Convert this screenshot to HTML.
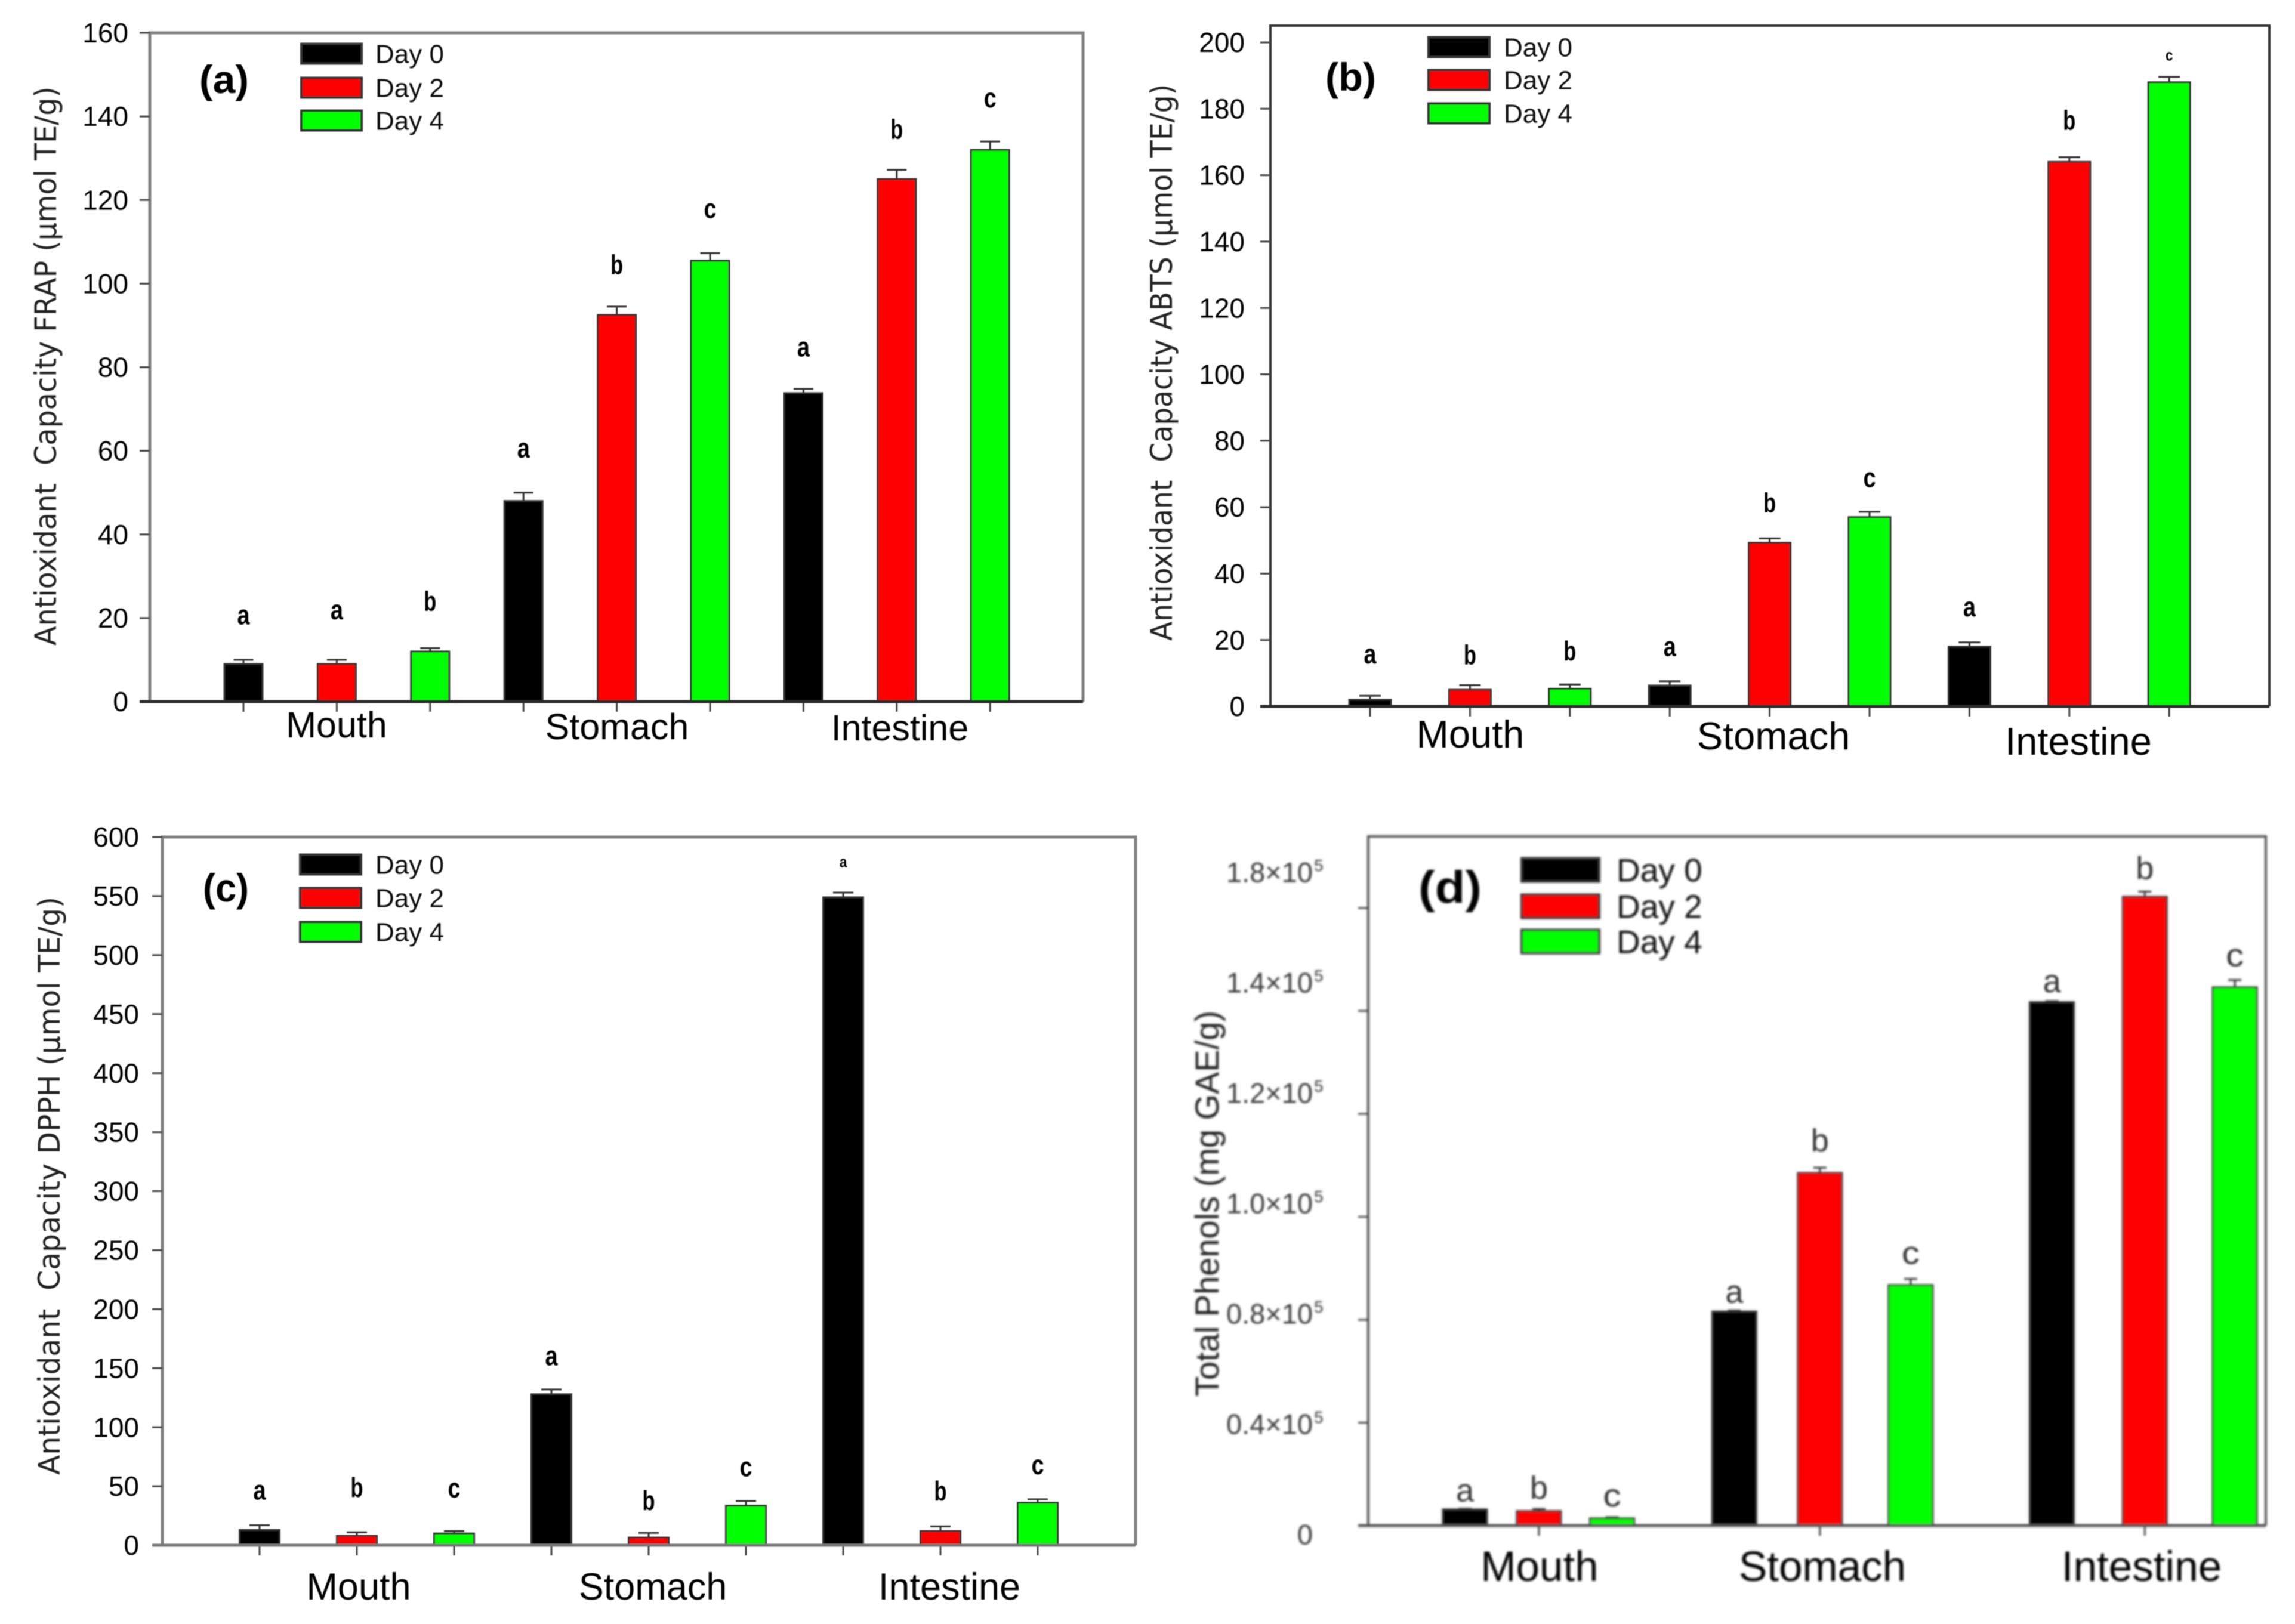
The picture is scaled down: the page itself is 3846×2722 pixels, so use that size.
<!DOCTYPE html>
<html lang="en">
<head>
<meta charset="utf-8">
<title>Antioxidant capacity and total phenols</title>
<style>
html,body{margin:0;padding:0;background:#fff;width:3846px;height:2722px;overflow:hidden}
svg{display:block}
text{font-family:"Liberation Sans",sans-serif;white-space:pre}
</style>
</head>
<body>
<svg id="figure" xmlns="http://www.w3.org/2000/svg" width="3846" height="2722" viewBox="0 0 3846 2722">
  <defs>
    <filter id="soft" x="-2%" y="-2%" width="104%" height="104%"><feGaussianBlur stdDeviation="0.9"/></filter>
    <filter id="softer" x="-2%" y="-2%" width="104%" height="104%"><feGaussianBlur stdDeviation="1.9"/></filter>
  </defs>
  <rect width="3846" height="2722" fill="#fff"/>
  <g id="panel-a" filter="url(#soft)"></g>
  <g id="panel-b" filter="url(#soft)"></g>
  <g id="panel-c" filter="url(#soft)"></g>
  <g id="panel-d" filter="url(#softer)"></g>
</svg>
<script>
const categories = ['Mouth', 'Stomach', 'Intestine'];
const seriesNames = ['Day 0', 'Day 2', 'Day 4'];
const seriesColors = ['#000000', '#ff0000', '#00ff00'];

const aTickValues = [0, 20, 40, 60, 80, 100, 120, 140, 160];
const aTickLabels = ['0', '20', '40', '60', '80', '100', '120', '140', '160'];
const aDay0 = [9, 48, 73.8];
const aDay2 = [9, 92.5, 125];
const aDay4 = [12, 105.5, 132];
const aDay0Err = [1, 2, 1];
const aDay2Err = [1, 2, 2.2];
const aDay4Err = [0.8, 1.8, 2];
const aLetters = ['a', 'a', 'b', 'a', 'b', 'c', 'a', 'b', 'c'];
const aLetterValues = [20.2, 21.4, 23.5, 60.1, 104, 117.4, 84.3, 136.4, 143.9];

const bTickValues = [0, 20, 40, 60, 80, 100, 120, 140, 160, 180, 200];
const bTickLabels = ['0', '20', '40', '60', '80', '100', '120', '140', '160', '180', '200'];
const bDay0 = [2, 6.3, 18];
const bDay2 = [5, 49.3, 164];
const bDay4 = [5.3, 57, 188];
const bDay0Err = [1.2, 1.3, 1.3];
const bDay2Err = [1.4, 1.3, 1.4];
const bDay4Err = [1.3, 1.6, 1.6];
const bLetters = ['a', 'b', 'b', 'a', 'b', 'c', 'a', 'b', 'c'];
const bLetterValues = [15.1, 14.8, 16, 17.3, 60.6, 68.2, 29.3, 175.8, 195.8];

const cTickValues = [0, 50, 100, 150, 200, 250, 300, 350, 400, 450, 500, 550, 600];
const cTickLabels = ['0', '50', '100', '150', '200', '250', '300', '350', '400', '450', '500', '550', '600'];
const cDay0 = [13, 128, 549];
const cDay2 = [8, 6.5, 12];
const cDay4 = [10, 33.5, 36];
const cDay0Err = [4, 4, 4];
const cDay2Err = [3, 4, 4];
const cDay4Err = [2, 4, 3];
const cLetters = ['a', 'b', 'c', 'a', 'b', 'c', 'a', 'b', 'c'];
const cLetterValues = [44.8, 47, 46.5, 158.5, 35.9, 64.4, 578, 43.9, 66.3];

const dTickValues = [0, 30000, 60000, 90000, 120000, 150000, 180000];
const dTickLabels = ['0', '0.4', '0.8', '1.0', '1.2', '1.4', '1.8'];
const dDay0 = [4700, 62400, 152600];
const dDay2 = [4200, 102800, 183300];
const dDay4 = [2100, 70100, 156900];
const dDay0Err = [200, 300, 300];
const dDay2Err = [600, 1500, 1500];
const dDay4Err = [300, 1800, 2100];
const dLetters = ['a', 'b', 'c', 'a', 'b', 'c', 'a', 'b', 'c'];
const dLetterValues = [9500, 10300, 8000, 67400, 111500, 78700, 157900, 190900, 165500];
const dBarSlots = [0, 1.01, 2.01, 3.68, 4.85, 6.09, 8.02, 9.29, 10.52];
const dTickSlots = [1.01, 4.85, 9.29];

const NS = 'http://www.w3.org/2000/svg';
function el(parent, tag, attrs, text) {
  const node = document.createElementNS(NS, tag);
  for (const k in attrs) node.setAttribute(k, attrs[k]);
  if (text !== undefined) node.textContent = text;
  parent.appendChild(node);
  return node;
}

const panels = [
  {
    id: 'a', left: 251, right: 1815, top: 55, y0: 1176, yMaxPx: 55, vMax: 160,
    slotX0: 408, slotPitch: 156.4, barW: 64, capW: 33,
    tickValues: aTickValues, tickLabels: aTickLabels,
    values: [aDay0, aDay2, aDay4], errors: [aDay0Err, aDay2Err, aDay4Err],
    letters: aLetters, letterValues: aLetterValues,
    tickFont: 46, tickRight: 215, tickLen: 17, frame: '#808080', frameW: 5, axisColor: '#2b2b2b',
    yTitle: 'Antioxidant  Capacity FRAP (\u00b5mol TE/g)', yTitleX: 94, yTitleTop: 145, yTitleBottom: 1082, yTitleFont: 50, yTitleFamily: '"DejaVu Sans",sans-serif',
    catFont: 61, catAt: [[564, 1236], [1034, 1239], [1508, 1241]],
    legendX: 505, legendW: 101, legendH: 33, legendTextX: 629, legendFont: 44, legendYs: [90, 147, 202],
    tag: '(a)', tagX: 334, tagY: 156, tagW: 83, tagFont: 66,
    letterFont: 46, letterW: 21
  },
  {
    id: 'b', left: 2129, right: 3803, top: 43, y0: 1184, yMaxPx: 71, vMax: 200,
    slotX0: 2296, slotPitch: 167.4, barW: 70, capW: 36,
    tickValues: bTickValues, tickLabels: bTickLabels,
    values: [bDay0, bDay2, bDay4], errors: [bDay0Err, bDay2Err, bDay4Err],
    letters: bLetters, letterValues: bLetterValues,
    tickFont: 46, tickRight: 2086, tickLen: 17, frame: '#333333', frameW: 4, axisColor: '#2b2b2b',
    yTitle: 'Antioxidant  Capacity ABTS (\u00b5mol TE/g)', yTitleX: 1964, yTitleTop: 141, yTitleBottom: 1074, yTitleFont: 50, yTitleFamily: '"DejaVu Sans",sans-serif',
    catFont: 65, catAt: [[2464, 1253], [2972, 1256], [3483, 1265]],
    legendX: 2394, legendW: 102, legendH: 33, legendTextX: 2520, legendFont: 44, legendYs: [79, 134, 190],
    tag: '(b)', tagX: 2221, tagY: 152, tagW: 85, tagFont: 66,
    letterFont: 46, letterW: 21, smallLetterIndex: 8
  },
  {
    id: 'c', left: 272, right: 1903, top: 1403, y0: 2590, yMaxPx: 1403, vMax: 600,
    slotX0: 435, slotPitch: 163, barW: 67, capW: 34,
    tickValues: cTickValues, tickLabels: cTickLabels,
    values: [cDay0, cDay2, cDay4], errors: [cDay0Err, cDay2Err, cDay4Err],
    letters: cLetters, letterValues: cLetterValues,
    tickFont: 46, tickRight: 233, tickLen: 17, frame: '#808080', frameW: 5, axisColor: '#777777',
    yTitle: 'Antioxidant  Capacity DPPH (\u00b5mol TE/g)', yTitleX: 100, yTitleTop: 1503, yTitleBottom: 2472, yTitleFont: 50, yTitleFamily: '"DejaVu Sans",sans-serif',
    catFont: 63, catAt: [[601, 2681], [1094, 2681], [1591, 2681]],
    legendX: 503, legendW: 102, legendH: 33, legendTextX: 629, legendFont: 44, legendYs: [1449, 1505, 1562],
    tag: '(c)', tagX: 340, tagY: 1511, tagW: 77, tagFont: 66,
    letterFont: 46, letterW: 21, smallLetterIndex: 6
  },
  {
    id: 'd', left: 2293, right: 3797, top: 1402, y0: 2557, yMaxPx: 1522, vMax: 180000,
    slotX0: 2455, slotPitch: 122.64, barW: 74, capW: 22,
    barSlots: dBarSlots, tickSlots: dTickSlots,
    tickValues: dTickValues, tickLabels: dTickLabels,
    values: [dDay0, dDay2, dDay4], errors: [dDay0Err, dDay2Err, dDay4Err],
    letters: dLetters, letterValues: dLetterValues,
    tickFont: 47, tickRight: 2200, tickLen: 17, frame: '#555555', frameW: 4, axisColor: '#555555',
    labelStart: 2572, labelStep: 185, labelSup: true,
    yTitle: 'Total Phenols (mg GAE/g)', yTitleX: 2042, yTitleTop: 1694, yTitleBottom: 2341, yTitleFont: 56, yTitleFamily: '"Liberation Sans",sans-serif',
    catFont: 71, catAt: [[2580, 2650], [3054, 2650], [3589, 2650]],
    legendX: 2550, legendW: 130, legendH: 39, legendTextX: 2709, legendFont: 55, legendYs: [1458, 1519, 1578],
    tag: '(d)', tagX: 2377, tagY: 1513, tagW: 106, tagFont: 76,
    letterFont: 54, letterW: 30, letterRegular: true
  }
];

panels.forEach(function (p) {
  const g = document.getElementById('panel-' + p.id);
  const yScale = function (v) { return p.y0 - (v / p.vMax) * (p.y0 - p.yMaxPx); };
  const slotX = function (slot) { return p.slotX0 + slot * p.slotPitch; };
  const barCount = categories.length * seriesNames.length;

  const frame = el(g, 'path', { d: 'M' + p.left + ' ' + p.y0 + 'V' + p.top + 'H' + p.right + 'V' + p.y0, fill: 'none', stroke: p.frame, 'stroke-width': p.frameW });
  
  

  p.tickValues.forEach(function (v, i) {
    const ty = yScale(v);
    const tick = el(g, 'line', { x1: p.left - p.tickLen, x2: p.left, y1: ty, y2: ty, stroke: '#444', 'stroke-width': 3 });
    
    
    const labelY = p.labelStart !== undefined ? p.labelStart - i * p.labelStep : ty;
    const label = el(g, 'text', { x: p.tickRight, y: labelY + p.tickFont * 0.35, 'text-anchor': 'end', 'font-size': p.tickFont, fill: p.labelSup ? '#3a3a3a' : '#000' }, p.tickLabels[i]);
    
    
    if (p.labelSup && i > 0) {
      label.textContent = p.tickLabels[i] + '\u00d710';
      const sup = el(g, 'text', { x: p.tickRight + 2, y: labelY - 2, 'font-size': 28, fill: '#3a3a3a' }, '5');
      
      
    }
  });

  const tickSlots = p.tickSlots || Array.from({ length: barCount }, function (_, i) { return i; });
  tickSlots.forEach(function (slot) {
    const tick = el(g, 'line', { x1: slotX(slot), x2: slotX(slot), y1: p.y0, y2: p.y0 + p.tickLen, stroke: '#444', 'stroke-width': 3 });
    
    
  });

  categories.forEach(function (cat, c) {
    const at = p.catAt[c];
    const label = el(g, 'text', { x: at[0], y: at[1], 'text-anchor': 'middle', 'font-size': p.catFont, fill: '#000' }, cat);
    
    

    seriesNames.forEach(function (name, s) {
      const index = c * seriesNames.length + s;
      const slot = p.barSlots ? p.barSlots[index] : index;
      const cx = slotX(slot);
      const value = p.values[s][c];
      const err = p.errors[s][c];
      const top = yScale(value);

      const errLine = el(g, 'path', { d: 'M' + cx + ' ' + top + 'V' + yScale(value + err) + 'M' + (cx - p.capW / 2) + ' ' + yScale(value + err) + 'H' + (cx + p.capW / 2), fill: 'none', stroke: '#333', 'stroke-width': 3 });
      
      

      const bar = el(g, 'rect', { x: cx - p.barW / 2, y: top, width: p.barW, height: p.y0 - top, fill: seriesColors[s], stroke: '#333', 'stroke-width': 3 });
      
      

      const small = p.smallLetterIndex === index;
      const font = small ? p.letterFont * 0.58 : p.letterFont;
      const letter = el(g, 'text', {
        x: cx, y: yScale(p.letterValues[index]) + font * 0.26, 'text-anchor': 'middle', 'font-size': font,
        'font-weight': p.letterRegular ? 'normal' : 'bold', fill: p.letterRegular ? '#333' : '#000',
        textLength: small ? p.letterW * 0.6 : p.letterW, lengthAdjust: 'spacingAndGlyphs'
      }, p.letters[index]);
      
      
    });
  });

  const axis = el(g, 'line', { x1: p.left - p.tickLen, x2: p.right, y1: p.y0, y2: p.y0, stroke: p.axisColor, 'stroke-width': 5 });
  
  

  const midY = (p.yTitleTop + p.yTitleBottom) / 2;
  const yTitle = el(g, 'text', {
    x: p.yTitleX, y: midY, 'text-anchor': 'middle', 'font-size': p.yTitleFont, fill: '#222',
    transform: 'rotate(-90 ' + p.yTitleX + ' ' + midY + ')',
    textLength: p.yTitleBottom - p.yTitleTop, lengthAdjust: 'spacingAndGlyphs',
    style: 'font-family:' + p.yTitleFamily.replace(/"/g, "'")
  }, p.yTitle);
  
  

  seriesNames.forEach(function (name, s) {
    const cy = p.legendYs[s];
    const swatch = el(g, 'rect', { x: p.legendX, y: cy - p.legendH / 2, width: p.legendW, height: p.legendH, fill: seriesColors[s], stroke: '#333', 'stroke-width': 4 });
    
    
    const entry = el(g, 'text', { x: p.legendTextX, y: cy + p.legendFont * 0.35, 'font-size': p.legendFont, fill: '#111' }, name);
    
    
  });

  const tag = el(g, 'text', { x: p.tagX, y: p.tagY, 'font-size': p.tagFont, 'font-weight': 'bold', fill: '#000', textLength: p.tagW, lengthAdjust: 'spacingAndGlyphs' }, p.tag);
  
  
});
</script>
</body>
</html>
